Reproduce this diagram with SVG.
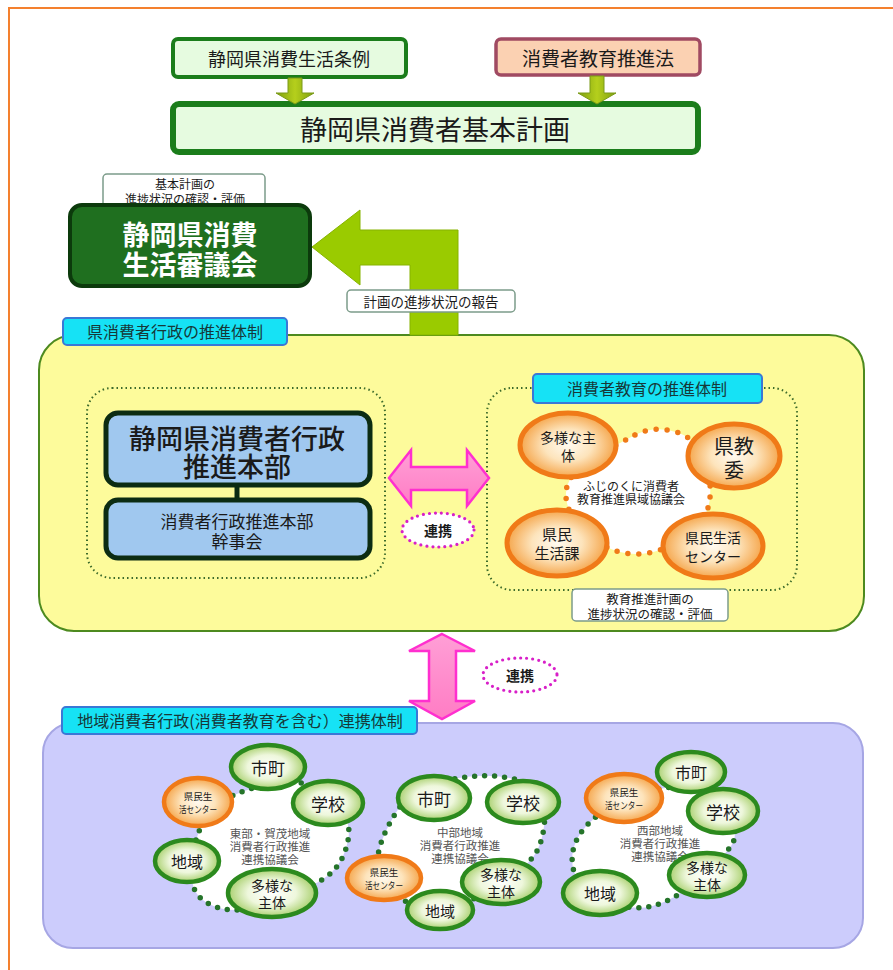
<svg xmlns="http://www.w3.org/2000/svg" width="893" height="970" viewBox="0 0 893 970">
<defs>
<radialGradient id="gGreen" cx="50%" cy="50%" r="50%"><stop offset="0%" stop-color="#ffffff"/><stop offset="55%" stop-color="#eef7dc"/><stop offset="100%" stop-color="#a9d06e"/></radialGradient>
<radialGradient id="gOrange" cx="50%" cy="50%" r="50%"><stop offset="0%" stop-color="#fffaf0"/><stop offset="50%" stop-color="#fde4bc"/><stop offset="100%" stop-color="#f5a64c"/></radialGradient>
<linearGradient id="gOlive" x1="0" y1="0" x2="1" y2="0"><stop offset="0%" stop-color="#7fa010"/><stop offset="50%" stop-color="#b5cf1c"/><stop offset="100%" stop-color="#7fa010"/></linearGradient>
<linearGradient id="gPinkH" x1="0" y1="0" x2="0" y2="1"><stop offset="0%" stop-color="#ff9fd6"/><stop offset="100%" stop-color="#ff7cc4"/></linearGradient>
<style>
text{font-family:"Noto Sans CJK JP","Noto Sans CJK SC",sans-serif;text-anchor:middle;dominant-baseline:central;fill:#1a1a1a}
.lgbox{fill:#e6fbe0;stroke:#1b7d1b;stroke-width:4}
.label{fill:#ffffff;stroke:#7c9c8a;stroke-width:1.5}
.hdr{fill:#16e2f5;stroke:#3a78d6;stroke-width:2}
.hdrt{font-size:16px;fill:#163838}
.dotrect{fill:none;stroke:#3d6b2b;stroke-width:2;stroke-dasharray:1.5 3}
.blue{fill:#a0c8ef;stroke:#0c2c12;stroke-width:5}
.ge{fill:url(#gGreen);stroke:#2c8a1e;stroke-width:4.5}
.oe{fill:url(#gOrange);stroke:#f07a18;stroke-width:4.5}
.gblob{fill:#ffffff;stroke:#25742a;stroke-width:5.5;stroke-dasharray:0 10;stroke-linecap:round}
.oblob{fill:#ffffff;stroke:#f07a18;stroke-width:5.5;stroke-dasharray:0 11;stroke-linecap:round}
.desc{font-size:11.5px;fill:#555555}
.renkei{fill:#ffffff;stroke:#d81fc8;stroke-width:3.2;stroke-dasharray:0 6;stroke-linecap:round}
.pink{fill:url(#gPinkH);stroke:#ff2fcf;stroke-width:2.5;stroke-linejoin:miter}
.olive{fill:url(#gOlive);stroke:#7a9a18;stroke-width:1}
</style>
</defs>
<rect x="9" y="8" width="1000" height="1000" fill="#ffffff" stroke="#f4802e" stroke-width="2"/>

<g id="jorei">
<rect class="lgbox" x="173" y="39" width="233" height="38" rx="5"/>
<text x="289" y="58" font-size="18">静岡県消費生活条例</text>
</g>
<g id="kyoikuho">
<rect x="496" y="39" width="204" height="36" rx="5" fill="#fbd1b2" stroke="#a04a62" stroke-width="3.5"/>
<text x="598" y="57" font-size="19">消費者教育推進法</text>
</g>
<g id="kihonkeikaku">
<rect class="lgbox" x="173" y="104" width="525" height="48" rx="6" style="stroke-width:6"/>
<text x="435" y="128" font-size="27">静岡県消費者基本計画</text>
</g>

<g id="shingikai">
<rect class="label" x="103" y="174" width="162" height="33" rx="4"/>
<text font-size="12"><tspan x="185" y="183">基本計画の</tspan><tspan x="185" y="198">進捗状況の確認・評価</tspan></text>
<rect x="70" y="205" width="240" height="81" rx="12" fill="#1f6f1f" stroke="#0c3a0c" stroke-width="4"/>
<text font-size="27" font-weight="bold" style="fill:#ffffff"><tspan x="190" y="233">静岡県消費</tspan><tspan x="190" y="263">生活審議会</tspan></text>
</g>

<g id="ken-taisei">
<rect x="39" y="335" width="825" height="296" rx="35" fill="#fdfb9b" stroke="#4d8a1f" stroke-width="2"/>
<rect class="hdr" x="63" y="318" width="224" height="27" rx="4"/>
<text class="hdrt" x="175" y="331">県消費者行政の推進体制</text>
</g>

<g id="suishinhonbu">
<rect class="dotrect" x="87" y="388" width="298" height="190" rx="25"/>
<rect class="blue" x="106" y="413" width="264" height="72" rx="12"/>
<text font-size="27" font-weight="500"><tspan x="237" y="437">静岡県消費者行政</tspan><tspan x="237" y="465">推進本部</tspan></text>
<rect class="blue" x="106" y="500" width="264" height="58" rx="12"/>
<text font-size="17"><tspan x="237" y="520">消費者行政推進本部</tspan><tspan x="237" y="540">幹事会</tspan></text>
</g>

<g id="kyoiku-taisei">
<rect class="dotrect" x="487" y="388" width="310" height="202" rx="25"/>
<path class="oblob" d="M635,435 Q655,425 677.5,432.5 Q700,440 707.5,470 Q715,500 702.5,520 Q690,540 660,550 Q630,560 602.5,545 Q575,530 567.5,505 Q560,480 587.5,462.5 Q615,445 635,435 Z"/>
<text font-size="12"><tspan x="631" y="485">ふじのくに消費者</tspan><tspan x="631" y="498">教育推進県域協議会</tspan></text>
<rect class="hdr" x="533" y="374" width="229" height="29" rx="4"/>
<text class="hdrt" x="647" y="388">消費者教育の推進体制</text>
<rect class="label" x="572" y="589" width="156" height="32" rx="4"/>
<text font-size="12.5"><tspan x="650" y="598">教育推進計画の</tspan><tspan x="650" y="613">進捗状況の確認・評価</tspan></text>
</g>
<g id="tayona-e"><ellipse class="oe" cx="568" cy="445" rx="48" ry="32" style="stroke-width:5"/><text font-size="14"><tspan x="568" y="437">多様な主</tspan><tspan x="568" y="455">体</tspan></text></g>
<g id="kenkyoi"><ellipse class="oe" cx="734" cy="456" rx="46" ry="32" style="stroke-width:5"/><text font-size="20"><tspan x="734" y="445">県教</tspan><tspan x="734" y="469">委</tspan></text></g>
<g id="kenminseikatsuka"><ellipse class="oe" cx="557" cy="543" rx="50" ry="33" style="stroke-width:5"/><text font-size="15"><tspan x="557" y="533">県民</tspan><tspan x="557" y="552">生活課</tspan></text></g>
<g id="center-e"><ellipse class="oe" cx="713" cy="546" rx="50" ry="32" style="stroke-width:5"/><text font-size="14"><tspan x="713" y="537">県民生活</tspan><tspan x="713" y="556">センター</tspan></text></g>

<g id="renkei1"><ellipse class="renkei" cx="438" cy="530" rx="36" ry="17"/><text x="438" y="530" font-size="14" font-weight="bold">連携</text></g>
<g id="renkei2"><ellipse class="renkei" cx="520" cy="675" rx="37" ry="17"/><text x="520" y="675" font-size="14" font-weight="bold">連携</text></g>

<g id="chiiki-taisei">
<rect x="43" y="723" width="820" height="225" rx="30" fill="#ccccfc" stroke="#a6a6e4" stroke-width="2"/>
<rect class="hdr" x="62" y="707" width="355" height="27" rx="4"/>
<text class="hdrt" x="240" y="720">地域消費者行政(消費者教育を含む）連携体制</text>
</g>

<g id="tobu">
<path class="gblob" d="M271.5,783 Q300,776 326,795.5 Q352,815 348.5,837.5 Q345,860 331.5,872.5 Q318,885 279,900 Q240,915 217.5,907.5 Q195,900 192.5,882.5 Q190,865 194,847.5 Q198,830 206.5,817.5 Q215,805 229,797.5 Q243,790 271.5,783 Z"/>
<text class="desc"><tspan x="270" y="833">東部・賀茂地域</tspan><tspan x="270" y="846">消費者行政推進</tspan><tspan x="270" y="859">連携協議会</tspan></text>
<ellipse class="ge" cx="268" cy="767" rx="37" ry="22"/><text x="268" y="767" font-size="17">市町</text>
<ellipse class="ge" cx="328" cy="803" rx="35" ry="22"/><text x="328" y="803" font-size="17">学校</text>
<ellipse class="oe" cx="198" cy="802" rx="34" ry="24"/><text font-size="9.5"><tspan x="198" y="796">県民生</tspan><tspan x="198" y="809" textLength="38" lengthAdjust="spacingAndGlyphs">活センター</tspan></text>
<ellipse class="ge" cx="187" cy="861" rx="32" ry="21"/><text x="187" y="861" font-size="16">地域</text>
<ellipse class="ge" cx="272" cy="893" rx="44" ry="24"/><text font-size="14"><tspan x="272" y="885">多様な</tspan><tspan x="272" y="902">主体</tspan></text>
</g>

<g id="chubu">
<path class="gblob" d="M445,781 Q480,772 512.5,778.5 Q545,785 545,810 Q545,835 537.5,850 Q530,865 500,885 Q470,905 437.5,906.5 Q405,908 390,889 Q375,870 378.5,852.5 Q382,835 396,812.5 Q410,790 445,781 Z"/>
<text class="desc"><tspan x="460" y="832">中部地域</tspan><tspan x="460" y="845">消費者行政推進</tspan><tspan x="460" y="858">連携協議会</tspan></text>
<ellipse class="ge" cx="434" cy="798" rx="36" ry="22"/><text x="434" y="798" font-size="17">市町</text>
<ellipse class="ge" cx="523" cy="802" rx="36" ry="21"/><text x="523" y="802" font-size="17">学校</text>
<ellipse class="oe" cx="384" cy="878" rx="37" ry="22"/><text font-size="9.5"><tspan x="384" y="872">県民生</tspan><tspan x="384" y="885" textLength="38" lengthAdjust="spacingAndGlyphs">活センター</tspan></text>
<ellipse class="ge" cx="501" cy="882" rx="39" ry="22"/><text font-size="14"><tspan x="501" y="874">多様な</tspan><tspan x="501" y="891">主体</tspan></text>
<ellipse class="ge" cx="440" cy="910" rx="33" ry="19"/><text x="440" y="910" font-size="15">地域</text>
</g>

<g id="seibu">
<path class="gblob" d="M630,797.5 Q660,785 690,787.5 Q720,790 730,812.5 Q740,835 730,847.5 Q720,860 697.5,880 Q675,900 652.5,906 Q630,912 602.5,898.5 Q575,885 572.5,865 Q570,845 585,827.5 Q600,810 630,797.5 Z"/>
<text class="desc"><tspan x="660" y="830">西部地域</tspan><tspan x="660" y="843">消費者行政推進</tspan><tspan x="660" y="856">連携協議会</tspan></text>
<ellipse class="ge" cx="691" cy="772" rx="34" ry="20"/><text x="691" y="772" font-size="16">市町</text>
<ellipse class="ge" cx="723" cy="811" rx="35" ry="22"/><text x="723" y="811" font-size="17">学校</text>
<ellipse class="oe" cx="624" cy="798" rx="38" ry="24"/><text font-size="9.5"><tspan x="624" y="792">県民生</tspan><tspan x="624" y="805" textLength="38" lengthAdjust="spacingAndGlyphs">活センター</tspan></text>
<ellipse class="ge" cx="600" cy="893" rx="37" ry="22"/><text x="600" y="893" font-size="16">地域</text>
<ellipse class="ge" cx="707" cy="875" rx="38" ry="22"/><text font-size="14"><tspan x="707" y="867">多様な</tspan><tspan x="707" y="884">主体</tspan></text>
</g>

<g id="connectors">
<path class="olive" d="M288,78 H302 V93 H314 L295,104 L276,93 H288 Z"/>
<path class="olive" d="M590,76 H604 V93 H616 L597,104 L578,93 H590 Z"/>
<path d="M312,247 L360,210 V230 H458 V335 H410 V265 H360 V285 Z" fill="#9acb00" stroke="#86b300" stroke-width="1"/>
<line x1="237" y1="485" x2="237" y2="500" stroke="#0c2c12" stroke-width="5"/>
<path class="pink" d="M389,478 L411,450 V467 H467 V450 L489,478 L467,506 V490 H411 V506 Z"/>
<path class="pink" d="M442,634 L475,651 H456 V701 H475 L442,719 L409,701 H429 V651 H409 Z"/>
</g>
<g id="houkoku">
<rect class="label" x="347" y="290" width="168" height="22" rx="4"/>
<text x="431" y="301" font-size="13.5">計画の進捗状況の報告</text>
</g>
</svg>
